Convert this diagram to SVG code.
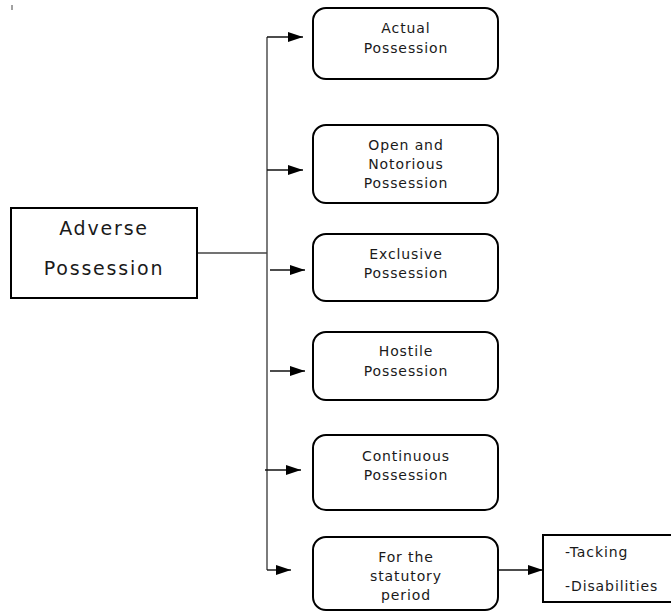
<svg xmlns="http://www.w3.org/2000/svg" width="671" height="612" viewBox="0 0 671 612">
<defs>
<marker id="arr" markerUnits="userSpaceOnUse" markerWidth="15" markerHeight="10" refX="15" refY="5" orient="auto">
<path d="M0,0 L15,5 L0,10 Z" fill="#000"/>
</marker>
<style>
.box{fill:#fff;stroke:#000;stroke-width:2}
.t{font-family:"DejaVu Sans","Open Sans",sans-serif;font-size:14px;fill:#1a1a1a;text-anchor:middle;letter-spacing:0.9px}
.big{font-size:19px;letter-spacing:1.8px}
.lt{text-anchor:start}
.c{fill:none;stroke:#444;stroke-width:1.4}
.a{fill:none;stroke:#111;stroke-width:1.4;marker-end:url(#arr)}
</style>
</defs>
<rect width="671" height="612" fill="#fff"/>
<line x1="12" y1="5" x2="12" y2="10" stroke="#444" stroke-width="1"/>
<g id="connectors">
<line class="c" x1="197" y1="253" x2="267" y2="253"/>
<line class="c" x1="267" y1="37" x2="267" y2="570"/>
<line class="a" x1="267" y1="37" x2="303" y2="37"/>
<line class="a" x1="267" y1="170" x2="303" y2="170"/>
<line class="a" x1="270" y1="270" x2="305" y2="270"/>
<line class="a" x1="270" y1="371" x2="305" y2="371"/>
<line class="a" x1="265" y1="470" x2="301" y2="470"/>
<line class="a" x1="267" y1="570" x2="291" y2="570"/>
<line class="a" x1="498" y1="570" x2="543" y2="570"/>
</g>
<g id="adverse">
<rect class="box" x="11" y="208" width="186" height="90"/>
<text class="t big" x="104" y="235">Adverse</text>
<text class="t big" x="104" y="275">Possession</text>
</g>
<g id="actual">
<rect class="box" x="313" y="8" width="185" height="71" rx="13"/>
<text class="t" x="406" y="33">Actual</text>
<text class="t" x="406" y="53">Possession</text>
</g>
<g id="open">
<rect class="box" x="313" y="125" width="185" height="78" rx="13"/>
<text class="t" x="406" y="150">Open and</text>
<text class="t" x="406" y="169">Notorious</text>
<text class="t" x="406" y="188">Possession</text>
</g>
<g id="exclusive">
<rect class="box" x="313" y="234" width="185" height="67" rx="13"/>
<text class="t" x="406" y="259">Exclusive</text>
<text class="t" x="406" y="278">Possession</text>
</g>
<g id="hostile">
<rect class="box" x="313" y="332" width="185" height="68" rx="13"/>
<text class="t" x="406" y="356">Hostile</text>
<text class="t" x="406" y="376">Possession</text>
</g>
<g id="continuous">
<rect class="box" x="313" y="435" width="185" height="75" rx="13"/>
<text class="t" x="406" y="461">Continuous</text>
<text class="t" x="406" y="480">Possession</text>
</g>
<g id="statutory">
<rect class="box" x="313" y="537" width="185" height="73" rx="13"/>
<text class="t" x="406" y="562">For the</text>
<text class="t" x="406" y="581">statutory</text>
<text class="t" x="406" y="600">period</text>
</g>
<g id="exceptions">
<rect class="box" x="543" y="535" width="130" height="67"/>
<text class="t lt" x="565" y="557">-Tacking</text>
<text class="t lt" x="565" y="591">-Disabilities</text>
</g>
</svg>
